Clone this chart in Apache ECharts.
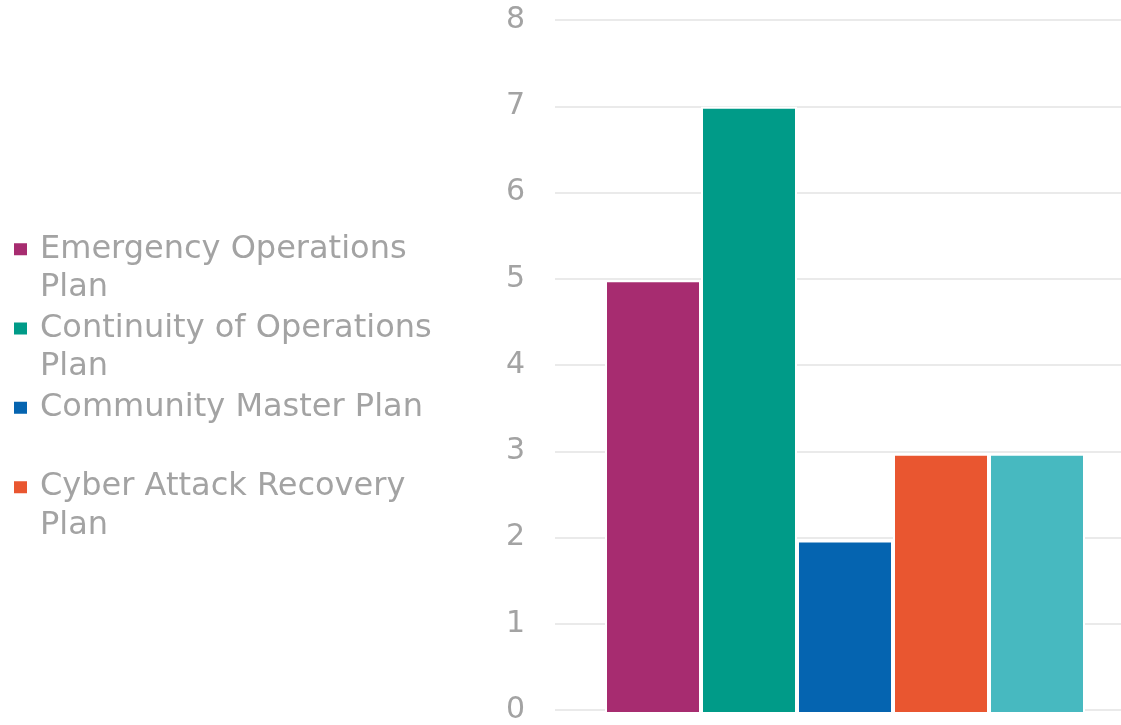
<!DOCTYPE html>
<html><head><meta charset="utf-8">
<script src="https://cdn.jsdelivr.net/npm/echarts@6/dist/echarts.min.js"></script>
<style>html,body{margin:0;padding:0;background:#fff}#c{width:1121px;height:725px}</style>
</head><body><div id="c"></div>
<script>
const categories = ['Plans'];
const seriesNames = ['Emergency Operations Plan', 'Continuity of Operations Plan', 'Community Master Plan', 'Cyber Attack Recovery Plan', 'Other Plan'];
const seriesValues = [5, 7, 2, 3, 3];
const seriesColors = ['#A72C70', '#009B88', '#0564B0', '#E95630', '#47B9C0'];
const legendLabels = {
  'Emergency Operations Plan': 'Emergency Operations\nPlan',
  'Continuity of Operations Plan': 'Continuity of Operations\nPlan',
  'Community Master Plan': 'Community Master Plan\n ',
  'Cyber Attack Recovery Plan': 'Cyber Attack Recovery\nPlan'
};
const yTicks = [0, 1, 2, 3, 4, 5, 6, 7, 8];
const font = 'DejaVu Sans';
// legend icon: square aligned with the first text line of a two-line item
const legendIcon = 'path://M0,0L0.01,0L0.01,0.01Z M0,13.25L13,13.25L13,25.25L0,25.25Z M0,76.99L0.01,77L0,77Z';
const yMin = yTicks[0], yMax = yTicks[yTicks.length - 1];
const chart = echarts.init(document.getElementById('c'));
chart.setOption({
  animation: false,
  textStyle: { fontFamily: font },
  legend: {
    orient: 'vertical', left: 9, top: 225,
    data: seriesNames.slice(0, 4),
    itemWidth: 13, itemHeight: 77, itemGap: 2.3,
    icon: legendIcon,
    itemStyle: { borderWidth: 0 },
    formatter: n => legendLabels[n] || n,
    textStyle: { color: '#a3a3a3', fontSize: 32, lineHeight: 38.5, fontFamily: font, padding: [0,0,0,8] },
    align: 'left'
  },
  grid: [
    { left: 555, right: 0, top: 20, bottom: 11 },
    { left: 569, right: 0, top: 20, bottom: 11 }
  ],
  xAxis: [
    { type: 'category', data: categories, gridIndex: 0, show: false },
    { type: 'category', data: categories, gridIndex: 1,
      axisLine: { show: false }, axisTick: { show: false }, axisLabel: { show: false } }
  ],
  yAxis: [
    { type: 'value', gridIndex: 0, min: yMin, max: yMax, interval: 1,
      axisLine: { show: false }, axisTick: { show: false },
      axisLabel: { color: '#a3a3a3', fontSize: 30, margin: 30, fontFamily: font },
      splitLine: { lineStyle: { color: '#e3e3e3', width: 1.5 } } },
    { type: 'value', gridIndex: 1, min: yMin, max: yMax, interval: 1, show: false,
      splitLine: { show: false } }
  ],
  series: seriesNames.map((n, i) => ({
    name: n, type: 'bar', data: [seriesValues[i]],
    xAxisIndex: 1, yAxisIndex: 1,
    barWidth: 96, barGap: '0%',
    itemStyle: { color: seriesColors[i], borderColor: '#fff', borderWidth: 2 }
  }))
});
</script></body></html>
